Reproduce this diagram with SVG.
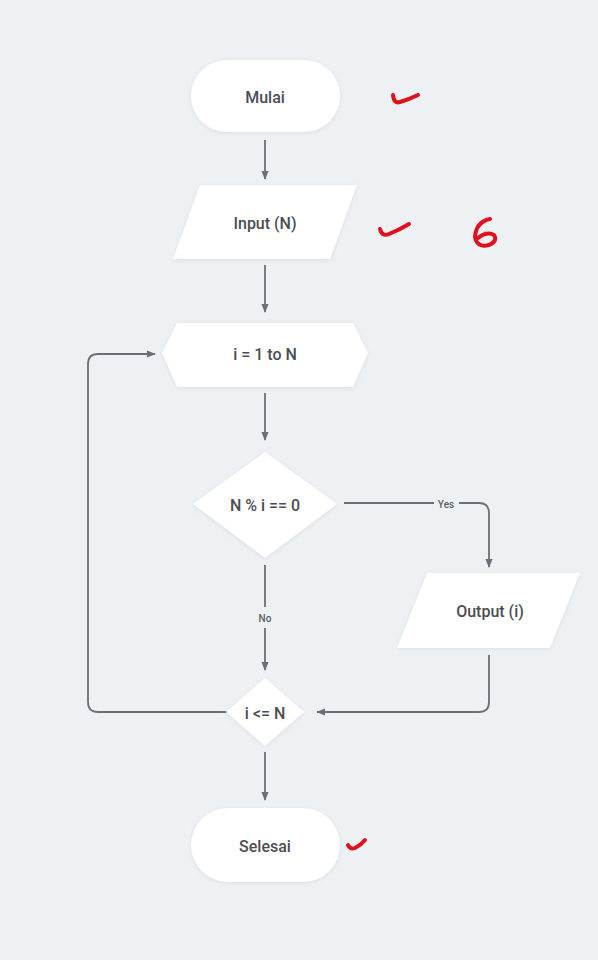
<svg xmlns="http://www.w3.org/2000/svg" width="598" height="960" viewBox="0 0 598 960">
<style>
.node{fill:#ffffff;filter:url(#sh)}
.t{font-family:Roboto,"Liberation Sans",sans-serif;font-size:16px;font-weight:500;fill:#4a4e53;text-anchor:middle;dominant-baseline:central}
.lbl{font-family:Roboto,"Liberation Sans",sans-serif;font-size:10px;font-weight:500;fill:#5a5e63;text-anchor:middle;dominant-baseline:central}
.c{fill:none;stroke:#6c7076;stroke-width:1.8;stroke-linejoin:round}
.ink{fill:none;stroke:#e0101c;stroke-width:4;stroke-linecap:round;stroke-linejoin:round}
</style>
<defs>
<filter id="sh" x="-20%" y="-20%" width="140%" height="140%">
<feDropShadow dx="0" dy="1" stdDeviation="2" flood-color="#c8ccd2" flood-opacity="0.5"/>
</filter>
<marker id="ah" viewBox="0 0 10 10" refX="9" refY="5" markerWidth="5" markerHeight="5" orient="auto-start-reverse">
<path d="M0,1 L10,5 L0,9 z" fill="#6c7076"/>
</marker>
</defs>
<rect width="598" height="960" fill="#eef1f4"/>

<g id="connectors">
<path class="c" d="M265,140 V179" marker-end="url(#ah)"/>
<path class="c" d="M265,265 V312" marker-end="url(#ah)"/>
<path class="c" d="M265,393 V440" marker-end="url(#ah)"/>
<path class="c" d="M344,503 H434 M459,503 H479 Q489,503 489,513 V567" marker-end="url(#ah)"/>
<text class="lbl" x="446" y="504">Yes</text>
<path class="c" d="M265,565 V607 M265,628 V670" marker-end="url(#ah)"/>
<text class="lbl" x="265" y="618">No</text>
<path class="c" d="M489,655 V702 Q489,712 479,712 H317" marker-end="url(#ah)"/>
<path class="c" d="M228,712 H98 Q88,712 88,702 V364 Q88,354 98,354 H155" marker-end="url(#ah)"/>
<path class="c" d="M265,752 V800" marker-end="url(#ah)"/>
</g>

<g id="mulai">
<rect class="node" x="191" y="60" width="149" height="72" rx="36"/>
<text class="t" x="265" y="97">Mulai</text>
</g>
<g id="input">
<polygon class="node" points="200,185 357,185 330,259 173,259"/>
<text class="t" x="265" y="223">Input (N)</text>
</g>
<g id="loop">
<polygon class="node" points="162,353 177,323 353,323 368,353 353,387 177,387"/>
<text class="t" x="265" y="354">i = 1 to N</text>
</g>
<g id="cond">
<polygon class="node" points="265,452 337,504 265,558 193,504"/>
<text class="t" x="265" y="505">N % i == 0</text>
</g>
<g id="output">
<polygon class="node" points="427,573 580,573 550,648 397,648"/>
<text class="t" x="490" y="611">Output (i)</text>
</g>
<g id="check">
<polygon class="node" points="265,678 304,712 265,746 226,712"/>
<text class="t" x="265" y="713">i &lt;= N</text>
</g>
<g id="selesai">
<rect class="node" x="191" y="808" width="149" height="74" rx="37"/>
<text class="t" x="265" y="846">Selesai</text>
</g>

<g id="annotations">
<path class="ink" d="M393,95 Q394,104 400,102 Q410,99 418,95"/>
<path class="ink" d="M380,229 Q382,237 389,234 Q399,230 409,224"/>
<path class="ink" d="M490,219 Q476,222 475,237 Q477,248 489,245 Q498,241 494,235 Q487,231 478,238"/>
<path class="ink" d="M348,845 Q350,850 355,848 Q361,845 365,840"/>
</g>
</svg>
